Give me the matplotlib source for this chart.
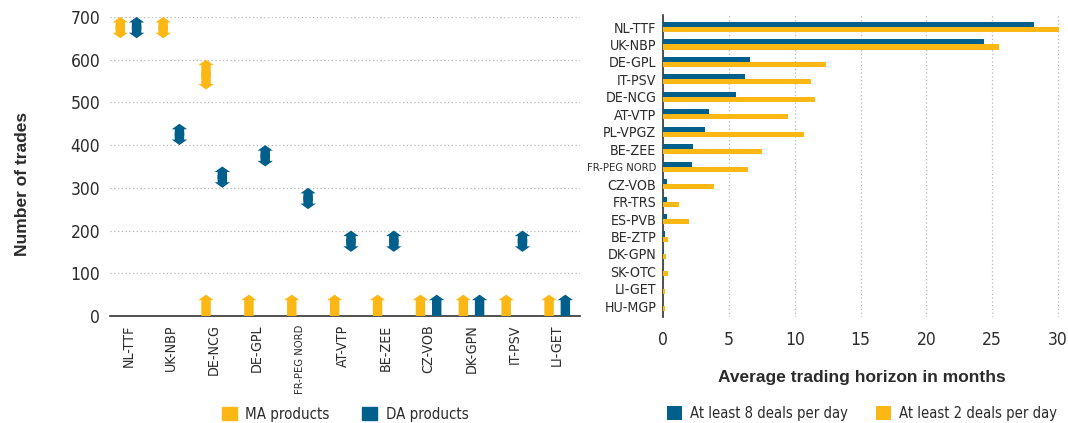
import matplotlib
matplotlib.use("Agg")
import matplotlib.pyplot as plt
from matplotlib.patches import Patch, FancyArrow

plt.rcParams['font.family'] = ['DejaVu Sans']
plt.rcParams['font.stretch'] = 'condensed'

# --- DATA ---
# left panel: number of trades, ranges shown as double arrows
hubs_left = ['NL-TTF', 'UK-NBP', 'DE-NCG', 'DE-GPL', 'FR-PEG NORD', 'AT-VTP',
             'BE-ZEE', 'CZ-VOB', 'DK-GPN', 'IT-PSV', 'LI-GET']
ma_low = [650, 650, 530, None, None, None, None, None, None, None, None]
ma_high = [700, 700, 600, None, None, None, None, None, None, None, None]
da_low = [650, 400, 300, 350, 250, 150, 150, None, None, 150, None]
da_high = [700, 450, 350, 400, 300, 200, 200, None, None, 200, None]
# hubs with fewer than 50 trades (single up arrow from 0 to 50)
ma_under50 = [False, False, True, True, True, True, True, True, True, True, True]
da_under50 = [False, False, False, False, False, False, False, True, True, False, True]
under_limit = 50

# right panel: average trading horizon in months
hubs_right = ['NL-TTF', 'UK-NBP', 'DE-GPL', 'IT-PSV', 'DE-NCG', 'AT-VTP', 'PL-VPGZ',
              'BE-ZEE', 'FR-PEG NORD', 'CZ-VOB', 'FR-TRS', 'ES-PVB', 'BE-ZTP',
              'DK-GPN', 'SK-OTC', 'LI-GET', 'HU-MGP']
deals8 = [28.2, 24.4, 6.6, 6.2, 5.5, 3.5, 3.2, 2.3, 2.15, 0.3, 0.25, 0.25, 0.1,
          0.05, 0.02, 0.0, 0.0]
deals2 = [30.1, 25.5, 12.4, 11.2, 11.5, 9.5, 10.7, 7.5, 6.45, 3.85, 1.2, 1.95, 0.33,
          0.2, 0.33, 0.1, 0.1]

YELLOW = '#FBB713'
BLUE = '#00608B'
TEXT = '#2b2b2b'
GRID = '#b8b8b8'
BOLD_FONT = ['Liberation Sans', 'DejaVu Sans']

fig = plt.figure(figsize=(10.68, 4.23), dpi=100)

# ---------------- LEFT PANEL ----------------
ax1 = fig.add_axes([0.103, 0.253, 0.440, 0.707])
ax1.set_xlim(-0.43, 10.53)
ax1.set_ylim(0, 700)

off = 0.19
shaft_w = 0.22     # in category units
head_w = 0.36
head_l = 13        # in trades


def arrow(ax, x, y0, y1, color):
    ax.add_patch(FancyArrow(x, y0, 0, y1 - y0, width=shaft_w, head_width=head_w,
                            head_length=head_l, length_includes_head=True,
                            color=color, lw=0, zorder=3))


def double_arrow(ax, x, lo, hi, color):
    span = hi - lo
    arrow(ax, x, lo + 0.4 * span, hi, color)
    arrow(ax, x, lo + 0.6 * span, lo, color)


for i in range(len(hubs_left)):
    if ma_low[i] is not None:
        double_arrow(ax1, i - off, ma_low[i], ma_high[i], YELLOW)
    if da_low[i] is not None:
        double_arrow(ax1, i + off, da_low[i], da_high[i], BLUE)
    if ma_under50[i]:
        arrow(ax1, i - off, 0, under_limit, YELLOW)
    if da_under50[i]:
        arrow(ax1, i + off, 0, under_limit, BLUE)

ax1.set_yticks(range(0, 701, 100))
ax1.yaxis.grid(True, linestyle=(0, (1, 2)), color=GRID, lw=0.9)
ax1.set_axisbelow(True)
ax1.set_xticks(range(len(hubs_left)))
ax1.set_xticklabels(hubs_left, rotation=90, fontsize=10.2, color=TEXT)
for lab in ax1.get_xticklabels():
    if lab.get_text() == 'FR-PEG NORD':
        lab.set_fontsize(8)
ax1.tick_params(axis='y', labelsize=12.5, colors=TEXT, length=0, pad=7)
ax1.tick_params(axis='x', length=0, pad=6)
for s in ['top', 'right', 'left']:
    ax1.spines[s].set_visible(False)
ax1.spines['bottom'].set_color('#333333')
ax1.spines['bottom'].set_linewidth(1.2)
ax1.set_ylabel('Number of trades', fontsize=12.5, fontweight='bold', color=TEXT,
               family=BOLD_FONT, stretch='normal')
ax1.yaxis.set_label_coords(-0.17, 0.44)

leg1 = ax1.legend(handles=[Patch(color=YELLOW, label='MA products'),
                           Patch(color=BLUE, label='DA products')],
                  loc='center', bbox_to_anchor=(0.5, -0.328), ncol=2, frameon=False,
                  fontsize=10.8, handlelength=1.0, handleheight=1.0,
                  handletextpad=0.55, columnspacing=2.2)
for t in leg1.get_texts():
    t.set_color(TEXT)

# ---------------- RIGHT PANEL ----------------
ax2 = fig.add_axes([0.621, 0.251, 0.372, 0.714])
h = 0.29
ypos = list(range(len(hubs_right)))
ax2.barh([y - h / 2 for y in ypos], deals8, height=h, color=BLUE,
         label='At least 8 deals per day', zorder=3)
ax2.barh([y + h / 2 for y in ypos], deals2, height=h, color=YELLOW,
         label='At least 2 deals per day', zorder=3)
ax2.set_ylim(16.6, -0.7)
ax2.set_xlim(0, 30.2)
ax2.set_xticks(range(0, 31, 5))
ax2.set_yticks(ypos)
ax2.set_yticklabels(hubs_right, fontsize=10.2, color=TEXT)
for lab in ax2.get_yticklabels():
    if lab.get_text() == 'FR-PEG NORD':
        lab.set_fontsize(8)
ax2.xaxis.grid(True, linestyle=(0, (1, 2)), color=GRID, lw=0.9)
ax2.set_axisbelow(True)
ax2.tick_params(axis='x', labelsize=12.5, colors=TEXT, length=0, pad=10)
ax2.tick_params(axis='y', length=0, pad=5)
for s in ['top', 'right', 'bottom']:
    ax2.spines[s].set_visible(False)
ax2.spines['left'].set_color('#333333')
ax2.spines['left'].set_linewidth(1.2)
ax2.set_xlabel('Average trading horizon in months', fontsize=12.5, fontweight='bold',
               color=TEXT, family=BOLD_FONT, stretch='normal', labelpad=15)

leg2 = ax2.legend(loc='center', bbox_to_anchor=(0.5, -0.32), ncol=2, frameon=False,
                  fontsize=10.6, handlelength=1.0, handleheight=1.0,
                  handletextpad=0.55, columnspacing=1.9)
for t in leg2.get_texts():
    t.set_color(TEXT)

fig.savefig('out.png', dpi=100)
